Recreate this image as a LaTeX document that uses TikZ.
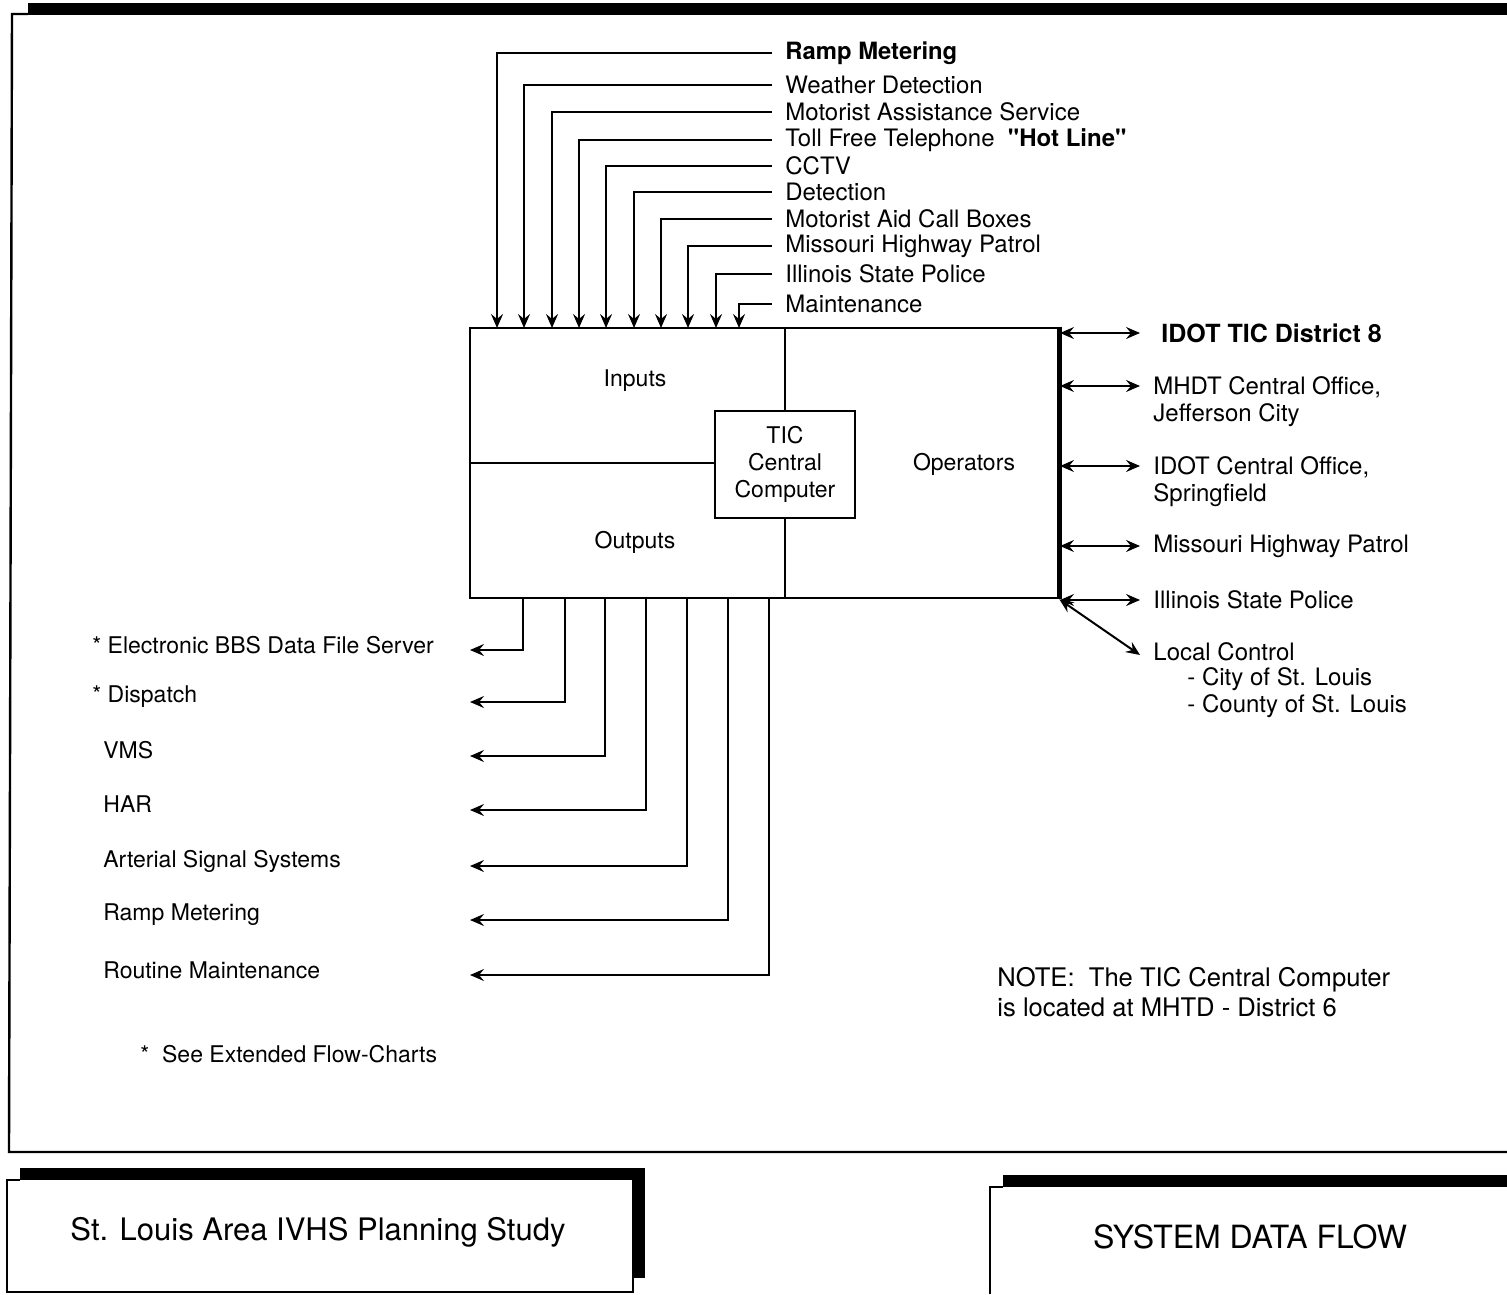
\documentclass[tikz,border=0pt]{standalone}
\usepackage{fontspec}
\setmainfont{TeX Gyre Heros}[Ligatures=TeXOff]
\usetikzlibrary{arrows.meta}
\begin{document}
\begin{tikzpicture}[x=0.5pt,y=-0.5pt,
  txt/.style={font=\fontsize{11.5}{13.5}\selectfont,inner sep=0pt},
  big/.style={font=\fontsize{12}{13.5}\selectfont},
  inlbl/.style={txt,big,anchor=west,inner xsep=6.5pt},
  rlbl/.style={txt,big,anchor=west,inner xsep=6.5pt,align=left},
  conn/.style={line width=1pt},
  arr/.style={conn,-{Stealth[length=7pt,width=6pt,inset=2.5pt]}},
  dbl/.style={conn,{Stealth[length=7pt,width=6pt,inset=2.5pt]}-{Stealth[length=7pt,width=6pt,inset=2.5pt]}},
  boxline/.style={line width=1.4pt},
  title/.style={font=\fontsize{15.5}{18}\selectfont,inner sep=0pt}]
\useasboundingbox (0,0) rectangle (1507,1294);

% page frame
\fill (28,3) rectangle (1507,15);
\draw[line width=1.2pt] (28,14) -- (12,14) -- (9,1152) -- (1507,1152);

% main box
\node[draw,boxline,minimum width=294pt,minimum height=135pt,inner sep=0pt] (box) at (764,463) {};
\draw[line width=2.2pt] (box.north east) -- (box.south east);
\node[draw,line width=1.2pt,txt,align=center,minimum width=70pt,minimum height=53.5pt] (tic) at (785,464.5) {TIC\\Central\\Computer};
\draw[boxline] (box.north -| tic.north) -- (tic.north);
\draw[boxline] (tic.south) -- (box.south -| tic.south);
\draw[boxline] (box.west |- 0,463) -- (tic.west |- 0,463);
\node[txt] (inputs) at (635,381) {Inputs};
\node[txt] (outputs) at (635,542) {Outputs};
\node[txt] (operators) at (964,464) {Operators};

% inputs
\node[inlbl,font=\bfseries\fontsize{11.9}{13.5}\selectfont] (i1) at (772,53) {Ramp Metering};
\node[inlbl] (i2) at (772,85) {Weather Detection};
\node[inlbl] (i3) at (772,112) {Motorist Assistance Service};
\node[inlbl] (i4) at (772,140) {Toll Free Telephone~~\textbf{"Hot Line"}};
\node[inlbl] (i5) at (772,166) {CCTV};
\node[inlbl] (i6) at (772,192) {Detection};
\node[inlbl] (i7) at (772,219) {Motorist Aid Call Boxes};
\node[inlbl] (i8) at (772,246) {Missouri Highway Patrol};
\node[inlbl] (i9) at (772,274) {Illinois State Police};
\node[inlbl] (i10) at (772,304) {Maintenance};
\foreach \k/\x in {1/497,2/524,3/552,4/579,5/606,6/634,7/661,8/688,9/716,10/739}
  \coordinate (t\k) at (\x,328);
\foreach \k in {1,...,10}
  \draw[arr] (i\k.west) -| (t\k);

% outputs
\node[txt,anchor=west] (o1) at (92,645) {* Electronic BBS Data File Server};
\node[txt,anchor=west] (o2) at (92,697) {* Dispatch};
\node[txt,anchor=west] (o3) at (103,750) {VMS};
\node[txt,anchor=west] (o4) at (103,804) {HAR};
\node[txt,anchor=west] (o5) at (103,861) {Arterial Signal Systems};
\node[txt,anchor=west] (o6) at (103,915) {Ramp Metering};
\node[txt,anchor=west] (o7) at (103,970) {Routine Maintenance};
\foreach \k/\x/\y in {1/523/650,2/565/702,3/605/756,4/646/810,5/687/866,6/728/920,7/769/975}{
  \coordinate (b\k) at (\x,598);
  \coordinate (e\k) at (470,\y);
  \draw[arr] (b\k) |- (e\k);
}
\node[txt,anchor=west] (see) at (140,1054) {*\ \ See Extended Flow-Charts};

% operators links
\node[rlbl,font=\bfseries\fontsize{12.5}{15}\selectfont,inner xsep=10.5pt] (r1) at (1140,333) {IDOT TIC District 8};
\node[rlbl,anchor=north west] (r2) at (1140,376) {MHDT Central Office,\\Jefferson City};
\node[rlbl,anchor=north west] (r3) at (1140,456) {IDOT Central Office,\\Springfield};
\node[rlbl] (r4) at (1140,546) {Missouri Highway Patrol};
\node[rlbl] (r5) at (1140,600) {Illinois State Police};
\node[rlbl] (r6) at (1140,652) {Local Control};
\node[txt,big,anchor=west] (city) at (1187,679) {- City of St. Louis};
\node[txt,big,anchor=west] (county) at (1187,706) {- County of St. Louis};
\foreach \k/\y in {1/333,2/386,3/466,4/546,5/600}
  \coordinate (s\k) at (1060,\y);
\draw[dbl] (s1) -- (s1 -| r2.west);
\draw[dbl] (s2) -- (s2 -| r2.west);
\draw[dbl] (s3) -- (s3 -| r3.west);
\draw[dbl] (s4) -- (r4.west);
\draw[dbl] (s5) -- (r5.west);
\draw[dbl] (box.south east) -- ([yshift=-1.5pt]r6.west);

% note
\node[txt,font=\fontsize{12.8}{15}\selectfont,anchor=west,align=left] (note) at (997,992) {NOTE:~~The TIC Central Computer\\is located at MHTD - District 6};

% title boxes
\fill (20,1168) rectangle (645,1180);
\fill (633,1168) rectangle (645,1278);
\draw[line width=1.2pt] (20,1180) -- (7,1180) -- (7,1292) -- (633,1292) -- (633,1180);
\node[title] (study) at (318,1232) {St. Louis Area IVHS Planning Study};
\fill (1003,1175) rectangle (1507,1187);
\draw[line width=1.2pt] (1003,1187) -- (990,1187) -- (990,1294);
\node[title,font=\fontsize{16}{18}\selectfont] (flow) at (1250,1237) {SYSTEM DATA FLOW};
\end{tikzpicture}
\end{document}
